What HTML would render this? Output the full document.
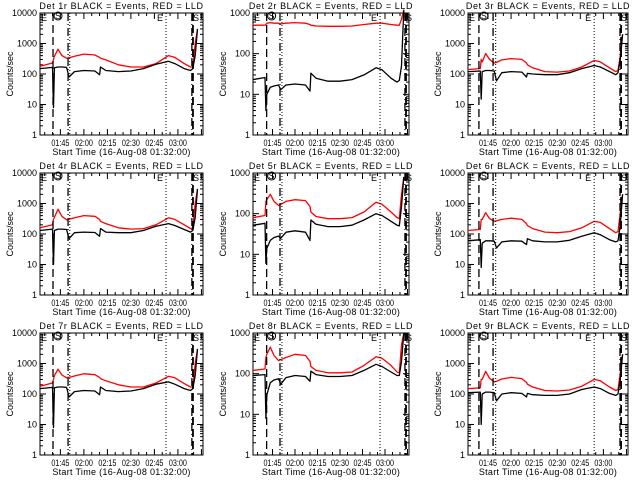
<!DOCTYPE html>
<html><head><meta charset="utf-8"><style>
body{margin:0;background:#fff;width:640px;height:480px;overflow:hidden}
svg{display:block}
text{font-family:"Liberation Sans",sans-serif;font-size:9px;fill:#000}
</style></head><body>
<svg id="chart" width="640" height="480" xmlns="http://www.w3.org/2000/svg"></svg>
<script>
const times=[0,8,8.6,9.2,11.5,14,17,18.5,22,28,35,38,38.6,42,50,58,66,74,82,86,92,96,97.5,99,100.5];
const xTickLabels=["01:45","02:00","02:15","02:30","02:45","03:00"];
const xTickMinutes=[13,28,43,58,73,88];
const detNames=["1r","2r","3r","4r","5r","6r","7r","8r","9r"];
const red1=[180,230,300,380,650,400,330,340,380,450,420,350,330,290,200,170,170,220,400,350,220,170,170,1000,3000];
const black1=[150,165,8,160,170,170,165,80,120,130,125,95,170,130,120,125,150,210,260,220,150,130,150,400,3000];
const red2=[500,500,520,560,580,560,560,540,560,580,560,520,500,480,470,470,480,520,560,560,520,500,500,700,1200];
const black2=[23,26,4,10,15,16,17,13,17,18,17,12,33,25,21,21,23,30,45,40,25,20,22,50,1200];
const red3=[140,150,300,250,470,300,230,240,290,320,300,230,200,160,120,115,125,170,280,250,160,120,130,400,2000];
const black3=[120,125,15,120,130,130,125,60,110,120,115,80,105,100,95,95,110,150,190,170,120,95,110,300,2000];
const red4=[160,200,300,350,650,380,290,300,340,400,380,300,260,220,160,145,150,200,340,300,200,150,160,1000,3000];
const black4=[130,145,10,130,145,145,140,70,110,115,112,85,150,115,110,110,130,180,220,190,140,115,130,350,3000];
const red5=[80,90,200,220,300,200,160,170,200,220,210,150,110,85,75,75,80,110,190,170,110,80,75,300,800];
const black5=[52,58,6,14,22,26,28,25,35,38,35,22,70,55,48,48,52,70,100,90,65,52,50,150,800];
const red6=[130,140,300,300,500,320,260,270,300,330,300,220,190,150,115,110,120,160,260,240,150,110,120,500,2000];
const black6=[60,65,8,50,60,60,58,35,55,60,58,45,70,60,55,55,62,85,110,95,65,55,60,200,2000];
const red7=[180,230,300,400,650,420,340,350,390,460,430,350,320,270,200,170,170,230,380,340,220,170,170,1000,3000];
const black7=[150,165,8,160,170,170,165,80,120,130,125,95,170,130,120,125,150,210,250,210,150,130,150,400,3000];
const red8=[120,130,250,300,450,280,210,220,250,300,280,200,150,120,105,105,110,160,260,240,160,110,105,500,1000];
const black8=[90,95,8,30,60,70,75,55,80,90,85,65,115,95,85,85,90,120,170,150,110,90,90,200,1000];
const red9=[150,160,300,300,550,330,250,260,310,350,320,240,210,170,130,125,135,180,300,270,170,130,140,500,2000];
const black9=[110,115,10,100,115,115,110,60,100,110,105,80,105,95,90,90,100,140,170,150,105,90,100,300,2000];
const reds=[red1,red2,red3,red4,red5,red6,red7,red8,red9];
const blacks=[black1,black2,black3,black4,black5,black6,black7,black8,black9];
const startMarks=[8.3,9.1,7.1];
const dashDotMarks=[17.9,18,16.3];
const dottedMarks=[19,19.3,18];
const endDotMarks=[80.4,84.7,82];
const endMarks=[97.6,102,99.5];

const NS="http://www.w3.org/2000/svg";
const svg=document.getElementById('chart');
function mk(tag,attrs,parent){const e=document.createElementNS(NS,tag);for(const k in attrs)e.setAttribute(k,attrs[k]);(parent||svg).appendChild(e);return e;}
const cols=[{x0:40,x1:203,dec:4},{x0:253,x1:409,dec:3},{x0:468,x1:628,dec:4}];
const rowsY=[13,173,333];
const TMAX=104;
for(let p=0;p<9;p++){
  const c=cols[p%3], y0=rowsY[Math.floor(p/3)], y1=y0+122, ci=p%3;
  const g=mk('g',{});
  
  
  const xs=t=>c.x0+(t/TMAX)*(c.x1-c.x0);
  const ys=v=>y1-Math.log10(Math.max(v,1))/c.dec*(y1-y0);
  const title=mk('text',{x:(c.x0+c.x1)/2,y:y0-4,'text-anchor':'middle','font-size':'10','letter-spacing':'0.6'},g);
  title.textContent='Det '+detNames[p]+' BLACK = Events, RED = LLD';
  
  
  const fr=mk('rect',{x:c.x0,y:y0,width:c.x1-c.x0,height:y1-y0,fill:'none',stroke:'#000','stroke-width':1},g);
  
  
  for(let d=0;d<=c.dec;d++){
    const yy=ys(Math.pow(10,d));
    mk('line',{x1:c.x0,x2:c.x0+6,y1:yy,y2:yy,stroke:'#000'},g);
    mk('line',{x1:c.x1,x2:c.x1-6,y1:yy,y2:yy,stroke:'#000'},g);
    const tl=mk('text',{x:c.x0-3,y:yy+3,'text-anchor':'end','font-size':'8'},g);
    tl.textContent=String(Math.pow(10,d));
    
    
    if(d<c.dec)for(let m=2;m<10;m++){const ym=ys(m*Math.pow(10,d));
      mk('line',{x1:c.x0,x2:c.x0+3,y1:ym,y2:ym,stroke:'#000'},g);
      mk('line',{x1:c.x1,x2:c.x1-3,y1:ym,y2:ym,stroke:'#000'},g);}
  }
  for(let m=3;m<TMAX;m+=5){const xx=xs(m);const major=((m-13)%15===0);
    mk('line',{x1:xx,x2:xx,y1:y1,y2:y1-(major?6:3),stroke:'#000'},g);
    mk('line',{x1:xx,x2:xx,y1:y0,y2:y0+(major?6:3),stroke:'#000'},g);}
  xTickLabels.forEach((lb,i)=>{const t=mk('text',{x:xs(xTickMinutes[i])-9,y:y1+11,'font-size':'8',textLength:'18',lengthAdjust:'spacingAndGlyphs'},g);t.textContent=lb;
    
    });
  const xl=mk('text',{x:(c.x0+c.x1)/2,y:y1+20,'text-anchor':'middle','letter-spacing':'0.3'},g);
  xl.textContent='Start Time (16-Aug-08 01:32:00)';
  
  
  const yl=mk('text',{x:0,y:0,'text-anchor':'middle','font-size':'8',transform:'translate('+(c.x0-27)+','+((y0+y1)/2)+') rotate(-90)'},g);
  yl.textContent='Counts/sec';
  
  
  function line(arr,col,name){let d='';for(let i=0;i<times.length;i++){const x=xs(times[i]),y=ys(arr[i]);
      d+=(i===0?'M':' L')+x.toFixed(1)+' '+y.toFixed(1);}
    const pl=mk('path',{d:d,fill:'none',stroke:col,'stroke-width':1.3,'stroke-linejoin':'round'},g);
    
    }
  line(reds[p],'#f00','lld-red-line');
  line(blacks[p],'#000','events-black-line');
  function vl(t,dash,name,w){const x=xs(t);const l=mk('line',{x1:x,x2:x,y1:y0,y2:y1,stroke:'#000','stroke-width':w||1,'stroke-dasharray':dash},g);
    
    }
  vl(startMarks[ci],'8,4','start-dashed-line',1.3);
  vl(dashDotMarks[ci],'8,3,1,3','dash-dot-line',1.3);
  vl(dottedMarks[ci],'1,2','dotted-line',1);
  vl(endDotMarks[ci],'1,2','end-dotted-line',1);
  vl(endMarks[ci],'8,4','end-dashed-line',1.8);
  vl(endMarks[ci]-0.7,'8,3,1,3','end-dash-dot-line',1.3);
  const e1=mk('text',{x:c.x0+1,y:y0+8},g);e1.textContent='E';
  
  
  const sx=xs(startMarks[ci])+5;
  mk('circle',{cx:sx,cy:y0+3,r:4,fill:'none',stroke:'#000'},g);
  const s1=mk('text',{x:sx,y:y0+6,'text-anchor':'middle','font-size':'8'},g);s1.textContent='S';
  
  
  const e2=mk('text',{x:xs(endDotMarks[ci])-9,y:y0+8},g);e2.textContent='E';
  
  
  const s2=mk('text',{x:xs(endMarks[ci])+3,y:y0+8,'text-anchor':'middle','font-size':'8'},g);s2.textContent='S';
  
  
}
</script>
</body></html>
